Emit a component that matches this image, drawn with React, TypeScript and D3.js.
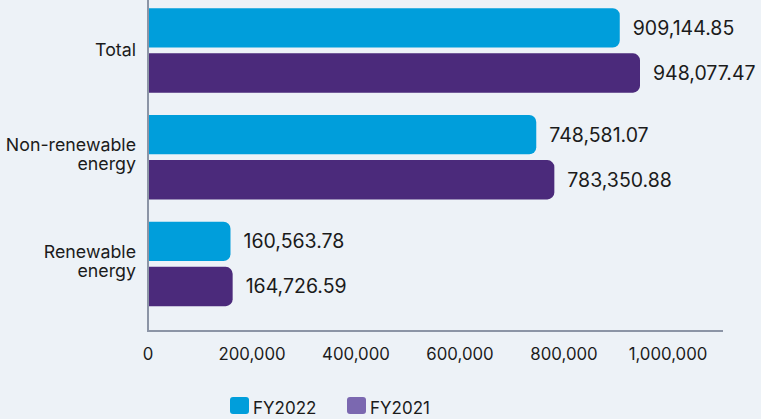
import React from "react";
import * as d3 from "d3";

const categories = ["Total", "Non-renewable energy", "Renewable energy"];
const categoryLines = [["Total"], ["Non-renewable", "energy"], ["Renewable", "energy"]];
const seriesNames = ["FY2022", "FY2021"];
const fy2022 = [909144.85, 748581.07, 160563.78];
const fy2021 = [948077.47, 783350.88, 164726.59];
const xTicks = [0, 200000, 400000, 600000, 800000, 1000000];

const W = 761;
const H = 419;
const BG = "#edf2f7";
const barColors = ["#009edb", "#4b2a7b"];
const legendColors = ["#009edb", "#7b68b0"];
const FONT = "Inter, 'Noto Sans', sans-serif";
const TEXT = "#1b1b1b";

function rightRounded(x0: number, y: number, x1: number, h: number, r: number) {
  const w = x1 - x0;
  const rr = Math.min(r, w, h / 2);
  return `M${x0},${y}H${x1 - rr}A${rr},${rr} 0 0 1 ${x1},${y + rr}V${y + h - rr}A${rr},${rr} 0 0 1 ${x1 - rr},${y + h}H${x0}Z`;
}

export default function App() {
  const x = d3.scaleLinear().domain([0, 1000000]).range([147, 667]);
  const axisY = 331;
  const axisXEnd = 723;
  const y = d3
    .scaleBand<string>()
    .domain(categories)
    .range([-2.9, 317.35])
    .paddingInner(0.21)
    .paddingOuter(0.105);
  const sub = d3
    .scaleBand<string>()
    .domain(seriesNames)
    .range([0, y.bandwidth()])
    .paddingInner(0.127);
  const series = [fy2022, fy2021];
  const fmt = d3.format(",.2f");
  const tickFmt = d3.format(",");
  const x0 = x(0);

  return (
    <svg width={W} height={H} style={{ display: "block", position: "absolute", left: 0, top: 0 }}>
      <rect x={0} y={0} width={W} height={H} fill={BG} />
      {categories.map((c, ci) => (
        <g key={c}>
          {series.map((vals, si) => {
            const by = (y(c) as number) + (sub(seriesNames[si]) as number);
            const bh = sub.bandwidth();
            return (
              <g key={si}>
                <path d={rightRounded(x0, by, x(vals[ci]), bh, 7)} fill={barColors[si]} />
                <text
                  x={x(vals[ci]) + 13}
                  y={by + bh / 2 + 7}
                  fontFamily={FONT}
                  fontSize={19.5}
                  fill={TEXT}
                >
                  {fmt(vals[ci])}
                </text>
              </g>
            );
          })}
          {(() => {
            const cy = (y(c) as number) + y.bandwidth() / 2;
            const lines = categoryLines[ci];
            const base = lines.length === 1 ? [cy + 6] : [cy - 6, cy + 13];
            return lines.map((l, li) => (
              <text
                key={li}
                x={136}
                y={base[li]}
                textAnchor="end"
                fontFamily={FONT}
                fontSize={17.8}
                fill={TEXT}
              >
                {l}
              </text>
            ));
          })()}
        </g>
      ))}
      <line x1={x0 + 1} x2={x0 + 1} y1={0} y2={axisY} stroke="#8c95a6" strokeWidth={2} />
      <line x1={x0} x2={axisXEnd} y1={axisY} y2={axisY} stroke="#8c95a6" strokeWidth={2} />
      {xTicks.map((t) => (
        <text
          key={t}
          x={x(t) + 1}
          y={360}
          textAnchor="middle"
          fontFamily={FONT}
          fontSize={16.8}
          fill={TEXT}
        >
          {tickFmt(t)}
        </text>
      ))}
      {seriesNames.map((s, i) => {
        const lx = [230, 347][i];
        return (
          <g key={s}>
            <rect x={lx} y={397} width={19} height={17} rx={3} fill={legendColors[i]} />
            <text x={lx + 23} y={413.5} fontFamily={FONT} fontSize={17} fill={TEXT}>
              {s}
            </text>
          </g>
        );
      })}
    </svg>
  );
}
